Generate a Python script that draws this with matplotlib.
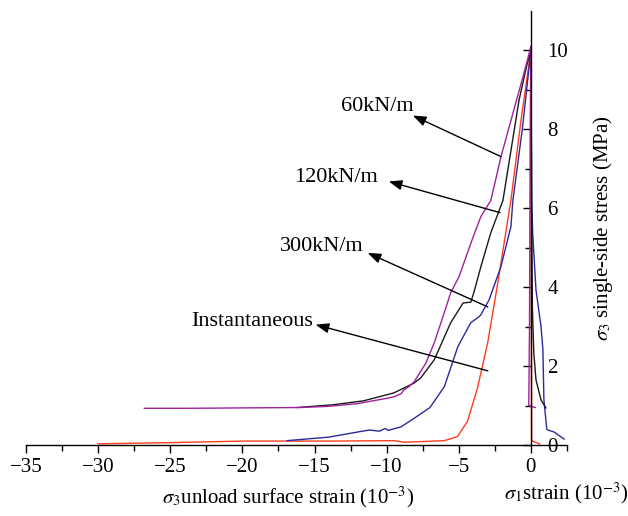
import matplotlib
matplotlib.use("Agg")
import matplotlib.pyplot as plt
from matplotlib.ticker import FixedLocator

plt.rcParams['font.family'] = ['Liberation Serif', 'DejaVu Serif']
plt.rcParams['mathtext.fontset'] = 'stix'

# ---- data: sigma3 unload surface strain branch (x<0) ----
p60_x = [-26.8, -24, -20, -16, -14, -12, -10.5, -9.9, -9.5, -9.0, -8.8, -8.45, -8.1, -7.29, -6.7, -6.02, -5.56, -4.98, -4.4, -4.0, -3.47, -2.78, -2.08, -1.18, -0.5, 0]
p60_y = [0.93, 0.93, 0.94, 0.95, 0.98, 1.05, 1.15, 1.19, 1.22, 1.3, 1.4, 1.48, 1.6, 2.07, 2.59, 3.34, 3.86, 4.27, 4.87, 5.28, 5.79, 6.2, 7.3, 8.5, 9.4, 10.1]

p120_x = [-16.2, -13.7, -11.6, -9.5, -8.1, -7.64, -6.7, -5.56, -4.7, -4.17, -3.96, -3.47, -2.78, -1.94, -0.82, -0.3, 0]
p120_y = [0.95, 1.02, 1.12, 1.32, 1.57, 1.7, 2.16, 3.1, 3.6, 3.62, 3.86, 4.52, 5.38, 6.2, 8.75, 9.6, 10.0]

p300_x = [-16.9, -14, -12, -11.2, -10.5, -10.1, -9.9, -9.0, -8.0, -7.0, -6.0, -5.07, -4.17, -3.6, -3.47, -2.9, -2.08, -1.39, -1.25, -0.6, 0]
p300_y = [0.11, 0.2, 0.33, 0.38, 0.35, 0.42, 0.37, 0.46, 0.7, 0.95, 1.48, 2.49, 3.1, 3.25, 3.3, 3.68, 4.52, 5.53, 6.2, 8.0, 10.0]

inst_x = [-30, -25, -19.9, -13.4, -9.5, -8.8, -6.0, -5.1, -4.4, -3.7, -3.0, -2.3, -1.39, -0.7, 0]
inst_y = [0.03, 0.06, 0.1, 0.1, 0.11, 0.07, 0.11, 0.21, 0.6, 1.45, 2.59, 4.1, 6.2, 8.2, 10.0]

# ---- data: sigma1 strain branch (post-peak) ----
p60_x1 = [0, -0.05, -0.1, -0.15, 0.3]
p60_y1 = [10.1, 8.0, 3.0, 1.0, 0.95]

p120_x1 = [0, 0.05, 0.1, 0.14, 0.2, 0.35, 0.7, 1.04]
p120_y1 = [10.0, 6.0, 3.5, 3.0, 2.33, 1.65, 1.14, 0.94]

p300_x1 = [0, 0.05, 0.12, 0.35, 0.7, 0.83, 0.9, 1.1, 1.18, 1.6, 2.3]
p300_y1 = [10.0, 6.2, 5.38, 3.93, 3.0, 2.41, 1.14, 0.4, 0.38, 0.33, 0.15]

inst_x1 = [0, 0.02, 0.05, 0.1, 0.6]
inst_y1 = [10.0, 5.0, 0.15, 0.1, 0.03]

labels = ['60kN/m', '120kN/m', '300kN/m', 'Instantaneous']
label_pos = [(-8.13, 8.58), (-10.6, 6.78), (-11.6, 5.03), (-15.07, 3.12)]
arrow_head = [(-8.19, 8.35), (-9.86, 6.68), (-11.32, 4.87), (-14.93, 3.05)]
arrow_tail = [(-2.08, 7.31), (-2.15, 5.89), (-2.99, 3.50), (-2.99, 1.88)]

x_major = [-35, -30, -25, -20, -15, -10, -5, 0]
x_minor = [-32.5, -27.5, -22.5, -17.5, -12.5, -7.5, -2.5, 2.5]
y_major = [0, 2, 4, 6, 8, 10]
y_minor = [1, 3, 5, 7, 9]

c_purple = '#a0209f'
c_black = '#1a1a1a'
c_blue = '#2a2aa0'
c_red = '#ff3c1e'

fig = plt.figure(figsize=(6.28, 5.16), dpi=100)
ax = fig.add_axes([26/628, 71/516, 541/628, 434/516])

lw = 1.0
ax.plot(inst_x, inst_y, color=c_red, lw=lw)
ax.plot(inst_x1, inst_y1, color=c_red, lw=lw)
ax.plot(p300_x, p300_y, color=c_blue, lw=lw)
ax.plot(p300_x1, p300_y1, color=c_blue, lw=lw)
ax.plot(p120_x, p120_y, color=c_black, lw=lw)
ax.plot(p120_x1, p120_y1, color=c_black, lw=lw)
ax.plot(p60_x, p60_y, color=c_purple, lw=lw)
ax.plot(p60_x1, p60_y1, color=c_purple, lw=lw)

ax.set_xlim(-35, 2.5)
ax.set_ylim(0, 11)

for s in ['top', 'left']:
    ax.spines[s].set_visible(False)
ax.spines['right'].set_position(('data', 0))
ax.spines['bottom'].set_linewidth(1.0)
ax.spines['right'].set_linewidth(1.0)

ax.xaxis.set_major_locator(FixedLocator(x_major))
ax.xaxis.set_minor_locator(FixedLocator(x_minor))
ax.set_xticklabels(['\u2212' + str(abs(v)) if v < 0 else str(v) for v in x_major])
ax.tick_params(axis='x', which='major', direction='out', length=6, width=1, labelsize=15, pad=3)
ax.tick_params(axis='x', which='minor', direction='out', length=4, width=1)

ax.yaxis.set_ticks_position('right')
ax.yaxis.set_major_locator(FixedLocator(y_major))
ax.yaxis.set_minor_locator(FixedLocator(y_minor))
ax.tick_params(axis='y', which='major', direction='in', length=6, width=1, labelsize=15, pad=12)
ax.tick_params(axis='y', which='minor', direction='in', length=4, width=1)

for lab, tp, hd, tl in zip(labels, label_pos, arrow_head, arrow_tail):
    ax.text(tp[0], tp[1], lab, ha='right', va='center', fontsize=16)
    ax.annotate('', xy=hd, xytext=tl,
                arrowprops=dict(arrowstyle='-|>,head_length=0.8,head_width=0.3', color='black', lw=1.0,
                                shrinkA=0, shrinkB=0))

fig.text(288/628, 1 - 497/516, r'$\sigma_3$unload surface strain (10$^{-3}$)', ha='center', va='center', fontsize=15)
fig.text(566/628, 1 - 493/516, r'$\sigma_1$strain (10$^{-3}$)', ha='center', va='center', fontsize=15)
fig.text(603/628, 1 - 228/516, r'$\sigma_3$ single-side stress (MPa)', ha='center', va='center', fontsize=15, rotation=90)

fig.savefig('out.png', dpi=100)
